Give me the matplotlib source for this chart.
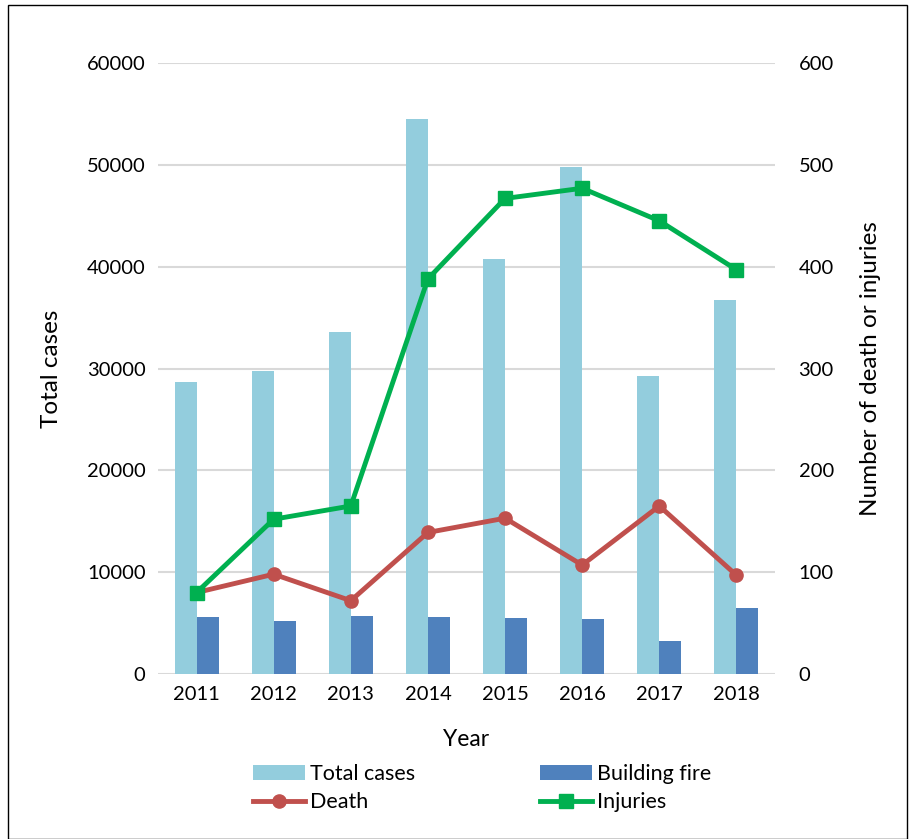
"""Fire cases, building fires, deaths and injuries by year, 2011-2018."""
import matplotlib
matplotlib.use("Agg")
import matplotlib.pyplot as plt
import numpy as np
from matplotlib.patches import Rectangle

plt.rcParams['font.family'] = ['Lato', 'DejaVu Sans']

years = ['2011', '2012', '2013', '2014', '2015', '2016', '2017', '2018']
total_cases = [28700, 29800, 33600, 54500, 40800, 49800, 29300, 36700]
building_fire = [5600, 5200, 5700, 5600, 5500, 5400, 3200, 6500]
death = [80, 98, 72, 139, 153, 107, 165, 97]
injuries = [80, 152, 165, 388, 467, 477, 445, 397]

fig = plt.figure(figsize=(9.10, 8.39), dpi=100)
ax = fig.add_axes([158/910, 1 - 674/839, 617/910, 611/839])

x = np.arange(len(years))
w = 0.285
b1 = ax.bar(x - w/2, total_cases, w, color='#93CDDD', label='Total cases', zorder=2)
b2 = ax.bar(x + w/2, building_fire, w, color='#4F81BD', label='Building fire', zorder=2)
ax.set_ylim(0, 60000)
ax.set_xlim(-0.5, len(years) - 0.5)
ax.set_yticks(range(0, 60001, 10000))
ax.set_xticks(x)
ax.set_xticklabels(years)
ax.grid(axis='y', color='#D9D9D9', linewidth=1.5, zorder=0)
for s in ax.spines.values():
    s.set_visible(False)
ax.tick_params(length=0, labelsize=14.5, pad=9)
ax.set_ylabel('Total cases', fontsize=17.5, labelpad=18)
ax.set_xlabel('Year', fontsize=16.5, labelpad=18)

ax2 = ax.twinx()
l1, = ax2.plot(x, death, color='#C0504D', lw=3.5, marker='o', ms=9.5, label='Death', zorder=3)
l2, = ax2.plot(x, injuries, color='#00B050', lw=3.5, marker='s', ms=10, label='Injuries', zorder=4)
ax2.set_ylim(0, 600)
ax2.set_yticks(range(0, 601, 100))
for s in ax2.spines.values():
    s.set_visible(False)
ax2.tick_params(length=0, labelsize=14.5, pad=17)
ax2.set_ylabel('Number of death or injuries', fontsize=17.5, labelpad=19)

fig.legend([b1, l1, b2, l2], ['Total cases', 'Death', 'Building fire', 'Injuries'],
           ncol=2, loc='center', bbox_to_anchor=(482/910, 1 - 788/839),
           frameon=False, fontsize=15.5, handlelength=2.4, handletextpad=0.25,
           columnspacing=5.8, labelspacing=0.4)

fig.patches.append(Rectangle((8/910, 0), 899/910, 1 - 5/839, transform=fig.transFigure,
                             fill=False, edgecolor='black', linewidth=1))

fig.savefig('out.png', dpi=100)
